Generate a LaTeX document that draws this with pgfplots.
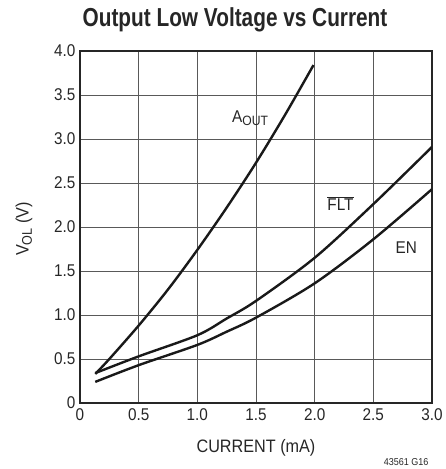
\documentclass[border=0pt]{standalone}
\usepackage{fontspec}
\setmainfont[FakeStretch=0.9]{Liberation Sans}
\newfontfamily\titlefont[FakeStretch=0.8]{Liberation Sans}
\usepackage{pgfplots}
\pgfplotsset{compat=1.18}

\begin{document}
\begin{tikzpicture}
  \begin{axis}[
      at={(0,0)}, anchor=south west,
      scale only axis,
      width=352pt, height=352pt,
      xmin=0, xmax=3, ymin=0, ymax=4,
      xtick={0,0.5,...,3},
      ytick={0,0.5,...,4},
      xticklabels={0,0.5,1.0,1.5,2.0,2.5,3.0},
      yticklabels={0,0.5,1.0,1.5,2.0,2.5,3.0,3.5,4.0},
      /pgf/number format/assume math mode=true,
      tick label style={font=\fontsize{17}{19}\selectfont, text=black!85},
      xticklabel style={yshift=-2pt},
      yticklabel style={xshift=-1pt},
      major tick length=0pt,
      grid=major,
      grid style={black!65, line width=0.9pt},
      axis line style={black!85, line width=1.4pt},
      curve/.style={black!90, line width=2.4pt, smooth, tension=0.5, mark=none},
    ]
    % A_OUT
    \addplot[curve] coordinates {
      (0.13,0.33) (0.25,0.50) (0.50,0.88) (0.75,1.29) (1.00,1.74)
      (1.25,2.22) (1.50,2.73) (1.75,3.28) (1.99,3.84)
    };
    % FLT
    \addplot[curve] coordinates {
      (0.13,0.34) (0.50,0.53) (1.00,0.77) (1.25,0.96) (1.50,1.16)
      (2.00,1.65) (2.50,2.26) (3.00,2.91)
    };
    % EN
    \addplot[curve] coordinates {
      (0.13,0.24) (0.50,0.43) (1.00,0.66) (1.25,0.81) (1.50,0.97)
      (2.00,1.36) (2.50,1.86) (3.00,2.43)
    };
    \node[font=\fontsize{17}{19}\selectfont, text=black!85] at (axis cs:1.45,3.24)
      {A\raisebox{-0.35ex}{\fontsize{13.5}{15}\selectfont OUT}};
    \node[font=\fontsize{17}{19}\selectfont, text=black!85] at (axis cs:2.22,2.27)
      {$\overline{\mbox{FLT}}$};
    \node[font=\fontsize{17}{19}\selectfont, text=black!85] at (axis cs:2.78,1.77) {EN};
  \end{axis}
  \node[font=\titlefont\bfseries\fontsize{26}{28}\selectfont, text=black!85]
    at (155pt,383pt) {Output Low Voltage vs Current};
  \node[font=\fontsize{18}{20}\selectfont, text=black!85] at (176pt,-45pt) {CURRENT (mA)};
  \node[font=\fontsize{18}{20}\selectfont, text=black!85, rotate=90] at (-56pt,174pt)
    {V\raisebox{-0.35ex}{\fontsize{14}{15}\selectfont OL} (V)};
  \node[font=\fontsize{10}{12}\selectfont, text=black!85, anchor=east] at (352pt,-59pt) {43561 G16};
  \pgfresetboundingbox
  \path[use as bounding box] (-80pt,-66pt) rectangle (365pt,403pt);
\end{tikzpicture}
\end{document}
